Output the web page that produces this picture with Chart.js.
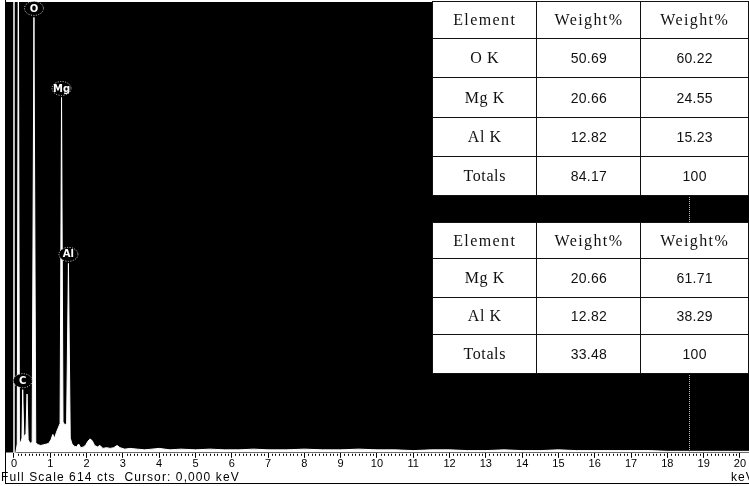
<!DOCTYPE html>
<html>
<head>
<meta charset="utf-8">
<script src="https://cdn.jsdelivr.net/npm/chart.js@4.4.1/dist/chart.umd.min.js"></script>
<style>
    body { margin: 0; background: #fff; }
    #pai { position: relative; width: 749px; height: 486px; overflow: hidden; background: #fff; }
    #grafico { position: absolute; left: 0; top: 0; }
    .tabela { position: absolute; border-collapse: collapse; background: #fff; table-layout: fixed; }
    .tabela td { border: 1px solid #111; text-align: center; padding: 0; color: #111; }
    .tabela td.nome { font-family: 'Liberation Serif', serif; font-size: 16px; letter-spacing: 0.6px; }
    .tabela td.num { font-family: 'Liberation Sans', sans-serif; font-size: 14px; letter-spacing: 0.3px; }
    .tabela td.cab { font-family: 'Liberation Serif', serif; font-size: 16px; letter-spacing: 1.4px; }
    #rodape { position: absolute; left: 1px; top: 470px; font-family: 'Liberation Sans', sans-serif; font-size: 12px; letter-spacing: 1.1px; color: #000; }
    #unidade { position: absolute; left: 731px; top: 470px; font-family: 'Liberation Sans', sans-serif; font-size: 12px; letter-spacing: 1px; color: #000; }
    #moldura { position: absolute; left: 5px; top: 0; width: 744px; height: 483px; border-left: 1px solid #000; border-bottom: 1px solid #000; pointer-events: none; }
    #risco { position: absolute; left: 689px; top: 195px; width: 0; height: 257px; border-left: 1px dotted #bbb; }
</style>
</head>
<body>
<div id="pai">
    <canvas id="grafico" width="749" height="486"></canvas>
    <div id="risco"></div>
    <div id="moldura"></div>
    <table class="tabela" id="tabela1" style="left:432px; top:1px;"></table>
    <table class="tabela" id="tabela2" style="left:432px; top:222px;"></table>
    <div id="rodape">Full Scale 614 cts&nbsp; Cursor: 0,000 keV</div>
    <div id="unidade">keV</div>
</div>
<script>
// espectro EDS (energia em keV, contagens)
const energiaKeV = [
    -0.22, 0.05, 0.09, 0.12, 0.15, 0.19, 0.22, 0.24, 0.27, 0.30,
    0.33, 0.36, 0.39, 0.44, 0.50, 0.55, 0.60, 0.66, 0.74, 0.82,
    0.90, 0.96, 1.02, 1.07, 1.12, 1.17, 1.22, 1.27, 1.31, 1.35,
    1.40, 1.45, 1.50, 1.55, 1.60, 1.66, 1.72, 1.78, 1.84, 1.92,
    1.98, 2.04, 2.10, 2.16, 2.22, 2.30, 2.37, 2.45, 2.55, 2.65,
    2.75, 2.84, 2.92, 3.05, 3.2, 3.4, 3.6, 3.8, 4.0, 4.3,
    4.6, 5.0, 5.4, 5.8, 6.2, 6.6, 7.0, 7.5, 8.0, 8.5,
    9.0, 9.5, 10.0, 10.5, 11.0, 11.5, 12.0, 12.5, 13.0, 13.5,
    14.0, 14.5, 15.0, 15.5, 16.0, 16.5, 17.0, 17.5, 18.0, 18.5,
    19.0, 19.5, 20.0, 20.25
];
const contagens = [
    0, 0, 12, 700, 14, 15, 20, 86, 22, 24,
    26, 80, 18, 13, 14, 593, 14, 11, 10, 11,
    12, 13, 18, 25, 20, 28, 34, 40, 484, 42,
    38, 40, 258, 20, 12, 9, 8, 12, 7, 8,
    11, 16, 19, 16, 10, 8, 10, 6, 7, 6,
    7, 10, 7, 5, 6, 5, 4, 5, 6, 4,
    5, 4, 5, 4, 4, 5, 4, 4, 5, 4,
    4, 5, 4, 4, 3, 4, 4, 3, 3, 4,
    3, 3, 4, 3, 3, 3, 3, 3, 2, 2,
    2, 2, 2, 2
];

const rotulosX = ['0','1','2','3','4','5','6','7','8','9','10','11','12','13','14','15','16','17','18','19','20'];
const escalaTotal = 614;
const cursorKeV = 0;

// picos identificados
const picoNome = ['C', 'O', 'Mg', 'Al'];
const picoKeV = [0.24, 0.55, 1.31, 1.50];
const picoCts = [86, 593, 484, 258];

// tabelas
const cabecalho = ['Element', 'Weight%', 'Weight%'];
const tab1Elemento = ['O K', 'Mg K', 'Al K', 'Totals'];
const tab1Peso = ['50.69', '20.66', '12.82', '84.17'];
const tab1Norm = ['60.22', '24.55', '15.23', '100'];
const tab2Elemento = ['Mg K', 'Al K', 'Totals'];
const tab2Peso = ['20.66', '12.82', '33.48'];
const tab2Norm = ['61.71', '38.29', '100'];

function montarTabela(id, elementos, pesos, norms, alturas) {
    var tabela = document.getElementById(id);
    var html = '<colgroup><col style="width:107px"><col style="width:106px"><col style="width:110px"></colgroup>';
    html += '<tr style="height:' + alturas[0] + 'px">';
    for (var c = 0; c < cabecalho.length; c++) {
        html += '<td class="cab">' + cabecalho[c] + '</td>';
    }
    html += '</tr>';
    for (var i = 0; i < elementos.length; i++) {
        html += '<tr style="height:' + alturas[i + 1] + 'px">';
        html += '<td class="nome">' + elementos[i] + '</td>';
        html += '<td class="num">' + pesos[i] + '</td>';
        html += '<td class="num">' + norms[i] + '</td>';
        html += '</tr>';
    }
    tabela.innerHTML = html;
}

montarTabela('tabela1', tab1Elemento, tab1Peso, tab1Norm, [37, 39, 40, 39, 39]);
montarTabela('tabela2', tab2Elemento, tab2Peso, tab2Norm, [36, 39, 37, 39]);

const pontos = energiaKeV.map((e, i) => ({ x: e, y: contagens[i] }));

const fundoPreto = {
    id: 'fundoPreto',
    beforeDraw(chart) {
        const a = chart.chartArea;
        const ctx = chart.ctx;
        ctx.save();
        ctx.fillStyle = '#000';
        ctx.fillRect(a.left, a.top, a.right - a.left, a.bottom - a.top);
        ctx.restore();
    }
};

const marcacoes = {
    id: 'marcacoes',
    afterDraw(chart) {
        const ctx = chart.ctx;
        const x = chart.scales.x;
        const y = chart.scales.y;
        const a = chart.chartArea;
        ctx.save();
        // cursor
        const xc = x.getPixelForValue(cursorKeV);
        ctx.strokeStyle = '#fff';
        ctx.lineWidth = 1.5;
        ctx.beginPath();
        ctx.moveTo(xc, a.top);
        ctx.lineTo(xc, a.bottom);
        ctx.stroke();
        // ticks menores
        ctx.strokeStyle = '#000';
        ctx.lineWidth = 1;
        for (let k = 0; k <= 200; k++) {
            if (k % 10 === 0) continue;
            const px = Math.round(x.getPixelForValue(k / 10)) + 0.5;
            ctx.beginPath();
            ctx.moveTo(px, a.bottom + 1);
            ctx.lineTo(px, a.bottom + 3);
            ctx.stroke();
        }
        // rótulos dos picos
        ctx.font = 'bold 10px "DejaVu Sans", sans-serif';
        ctx.textAlign = 'center';
        ctx.textBaseline = 'middle';
        for (let i = 0; i < picoNome.length; i++) {
            const px = x.getPixelForValue(picoKeV[i]);
            const py = y.getPixelForValue(picoCts[i]) - 9;
            ctx.fillStyle = '#000';
            ctx.beginPath();
            ctx.ellipse(px, py, 9.5, 7, 0, 0, Math.PI * 2);
            ctx.fill();
            ctx.setLineDash([1, 1.5]);
            ctx.strokeStyle = '#ddd';
            ctx.stroke();
            ctx.setLineDash([]);
            ctx.fillStyle = '#fff';
            ctx.fillText(picoNome[i], px, py + 0.5);
        }
        ctx.restore();
    }
};

new Chart(document.getElementById('grafico').getContext('2d'), {
    type: 'line',
    data: {
        datasets: [{
            label: 'Espectro',
            data: pontos,
            borderColor: '#fff',
            backgroundColor: '#fff',
            borderWidth: 1,
            fill: 'origin',
            pointRadius: 0,
            tension: 0
        }]
    },
    options: {
        responsive: false,
        animation: false,
        devicePixelRatio: 1,
        layout: { padding: { left: 6, top: 2, right: 0, bottom: 15 } },
        scales: {
            x: {
                type: 'linear',
                min: -0.22,
                max: 20.25,
                afterBuildTicks: function (scale) {
                    scale.ticks = rotulosX.map(t => ({ value: Number(t) }));
                },
                ticks: {
                    color: '#000',
                    padding: 0,
                    maxRotation: 0,
                    autoSkip: false,
                    font: { family: 'Liberation Sans', size: 11 },
                    callback: function (valor) { return rotulosX[Math.round(valor)]; }
                },
                grid: { drawOnChartArea: false, color: '#000', tickLength: 5 },
                border: { color: '#000' }
            },
            y: {
                display: false,
                min: 0,
                max: escalaTotal
            }
        },
        plugins: {
            legend: { display: false },
            tooltip: { enabled: false },
            title: { display: false }
        }
    },
    plugins: [fundoPreto, marcacoes]
});
</script>
</body>
</html>
